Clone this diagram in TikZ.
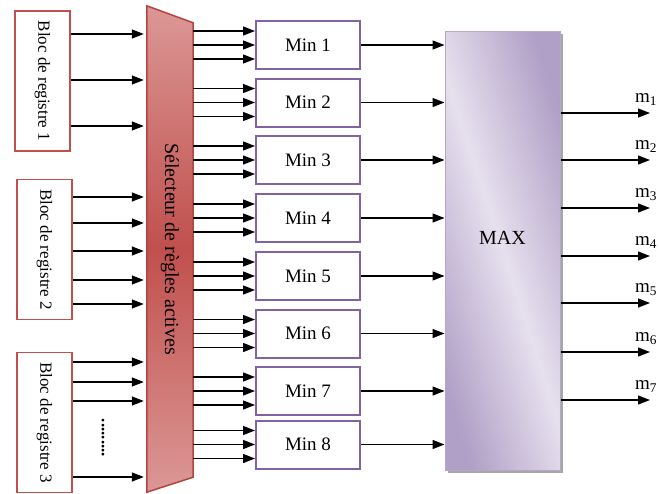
\documentclass[tikz,border=0pt]{standalone}
\usepackage{fontspec}
\setmainfont{Liberation Serif}
\usepackage{graphicx}
\usetikzlibrary{arrows.meta,backgrounds,shadows}
\definecolor{regred}{HTML}{C0504D}
\definecolor{selLight}{HTML}{DB9896}
\definecolor{selDark}{HTML}{C0504D}
\definecolor{selEdge}{HTML}{B5433F}
\definecolor{minpurple}{HTML}{8064A2}
\definecolor{maxLight}{HTML}{E6E0EE}
\definecolor{maxDark}{HTML}{B09FC6}
\definecolor{maxEdge}{HTML}{B7A8CB}
\tikzset{
  reg/.style={draw=regred, line width=1.5pt, fill=white, minimum width=55pt, minimum height=140pt, inner sep=0pt, font=\fontsize{17}{20}\selectfont},
  minbox/.style={draw=minpurple, line width=2pt, fill=white, minimum width=104pt, minimum height=48pt, font=\fontsize{19}{22}\selectfont},
  maxbox/.style={draw=maxEdge, line width=1pt, top color=maxDark, bottom color=maxDark, middle color=maxLight, shading angle=108, minimum width=115pt, minimum height=439pt, drop shadow={shadow xshift=3pt, shadow yshift=-3pt, fill=black!35, opacity=1}},
  selbox/.style={minimum width=46pt, minimum height=486pt, inner sep=0pt, font=\fontsize{20}{24}\selectfont},
  selshape/.style={draw=selEdge, line width=1.5pt, top color=selLight, bottom color=selLight, middle color=selDark},
  arr/.style={-{Triangle[length=12pt,width=9pt]}, line width=1.3pt},
  lbl/.style={font=\fontsize{19}{22}\selectfont, inner sep=1pt},
}
\begin{document}
\begin{tikzpicture}[x=1pt,y=-1pt]
\useasboundingbox (0,0) rectangle (659,493);
\node[reg] (r1) at (42.5,81) {\rotatebox{-90}{Bloc de registre 1}};
\node[reg] (r2) at (44.5,249.5) {\rotatebox{-90}{Bloc de registre 2}};
\node[reg] (r3) at (44.5,422.5) {\rotatebox{-90}{Bloc de registre 3}};
\node[font=\fontsize{17}{20}\selectfont\bfseries] (dots) at (103,438) {\rotatebox{-90}{.........}};
\node[selbox] (sel) at (170,249) {\rotatebox{-90}{Sélecteur de règles actives}};
\begin{scope}[on background layer]
\draw[selshape] (sel.north west) -- ([yshift=-17pt]sel.north east) -- ([yshift=15pt]sel.south east) -- (sel.south west) -- cycle;
\end{scope}
\node[minbox] (min1) at (308,45) {Min 1};
\node[minbox] (min2) at (308,102.5) {Min 2};
\node[minbox] (min3) at (308,160) {Min 3};
\node[minbox] (min4) at (308,218) {Min 4};
\node[minbox] (min5) at (308,276) {Min 5};
\node[minbox] (min6) at (308,333.5) {Min 6};
\node[minbox] (min7) at (308,391) {Min 7};
\node[minbox] (min8) at (308,444.5) {Min 8};
\node[maxbox] (max) at (502.5,250.5) {};
\node[lbl, font=\fontsize{20}{24}\selectfont] (maxlbl) at ([yshift=13pt]max.center) {MAX};
% registres -> selecteur
\foreach \y in {34,80,126} \draw[arr, shorten >=3pt] (r1.east |- 0,\y) -- (sel.west |- 0,\y);
\foreach \y in {197,223,251,280,304} \draw[arr, shorten >=3pt] (r2.east |- 0,\y) -- (sel.west |- 0,\y);
\foreach \y in {362,382,401,477} \draw[arr, shorten >=3pt] (r3.east |- 0,\y) -- (sel.west |- 0,\y);
% selecteur -> min -> max
\foreach \k in {1,...,8} {
  \foreach \d in {14,0,-14}
    \draw[arr] ([yshift=\d pt]min\k.west -| sel.east) -- ([yshift=\d pt]min\k.west);
  \draw[arr] (min\k.east) -- (min\k.east -| max.west);
}
% sorties
\foreach \i/\y in {1/113,2/160,3/208,4/256,5/303,6/352,7/400} {
  \coordinate (o\i) at (650,\y);
  \draw[arr] (max.east |- o\i) -- (o\i) node[lbl, above=6pt, xshift=-4pt] {m\textsubscript{\i}};
}
\end{tikzpicture}
\end{document}
